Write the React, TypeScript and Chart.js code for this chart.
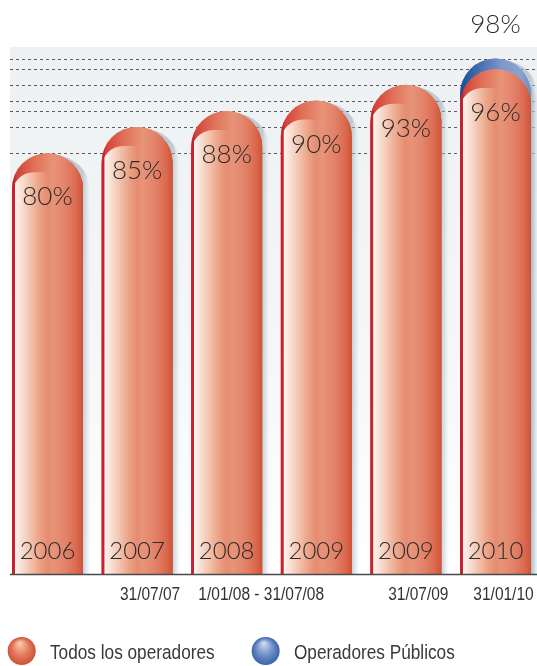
import React, { useEffect, useRef } from 'react';
import { Chart, registerables } from 'chart.js';

Chart.register(...registerables);

// ---- Data ----
const categories = ['2006', '2007', '2008', '2009', '2009', '2010'];
const dateLabels = ['', '31/07/07', '1/01/08 - 31/07/08', '', '31/07/09', '31/01/10'];
const todosValues: (number | null)[] = [80, 85, 88, 90, 93, 96];
const publicosValues: (number | null)[] = [null, null, null, null, null, 98];
const seriesNames = ['Todos los operadores', 'Operadores Públicos'];
const guideValues = [80, 85, 88, 90, 93, 96, 98];

// ---- Styles ----
const W = 537;
const H = 666;
const dateOffsets = [0, 13, 34.5, 0, 12.4, 8];
const numFont = "300 26px Lato, 'Open Sans', sans-serif";
const yearFont = "300 24px Lato, 'Open Sans', sans-serif";
const narrowFont = (px: number) => `${px}px 'Liberation Sans', Arial, sans-serif`;

function condensedText(ctx: CanvasRenderingContext2D, text: string, x: number, y: number, sx: number, align: 'left' | 'center') {
  ctx.save();
  ctx.translate(x, y);
  ctx.scale(sx, 1);
  ctx.textAlign = align;
  ctx.fillText(text, 0, 0);
  ctx.restore();
}

function pillPath(ctx: CanvasRenderingContext2D, x0: number, x1: number, top: number, base: number) {
  const r = (x1 - x0) / 2;
  ctx.beginPath();
  ctx.moveTo(x0, base);
  ctx.lineTo(x0, top + r);
  ctx.arc(x0 + r, top + r, r, Math.PI, 0);
  ctx.lineTo(x1, base);
  ctx.closePath();
}

function hGrad(ctx: CanvasRenderingContext2D, x0: number, x1: number, stops: [number, string][]) {
  const g = ctx.createLinearGradient(x0, 0, x1, 0);
  stops.forEach(([o, c]) => g.addColorStop(o, c));
  return g;
}

const redOuter: [number, string][] = [
  [0, '#c71d2c'], [0.035, '#cc2230'], [0.06, '#d4403a'], [0.3, '#df6f56'],
  [0.5, '#e5886d'], [0.58, '#e79479'], [0.75, '#e2836a'], [0.9, '#dc6b50'], [1, '#cf5338'],
];
const redInner: [number, string][] = [
  [0, '#c71d2c'], [0.035, '#cc2230'], [0.045, '#fdf4ef'], [0.18, '#f7d5c4'],
  [0.38, '#eca488'], [0.5, '#e68c71'], [0.58, '#e79479'], [0.75, '#e2836a'], [0.9, '#dc6b50'], [1, '#cf5338'],
];
const blueOuter: [number, string][] = [
  [0, '#174a8f'], [0.08, '#2259a2'], [0.35, '#5477b6'], [0.6, '#7f99c9'], [0.85, '#8aa2cf'], [1, '#6f8cc0'],
];

const decorPlugin = {
  id: 'decor',
  beforeDatasetsDraw(chart: any) {
    const { ctx } = chart;
    const y = chart.scales.y;
    const top = y.top - 1;
    const bottom = y.bottom;
    ctx.save();
    const bg = ctx.createLinearGradient(0, top, 0, bottom);
    bg.addColorStop(0, '#eef1f3');
    bg.addColorStop(0.55, '#f4f6f7');
    bg.addColorStop(1, '#ffffff');
    ctx.fillStyle = bg;
    ctx.fillRect(10, top, W - 10, bottom - top);
    ctx.strokeStyle = '#5a5a5a';
    ctx.lineWidth = 1;
    ctx.setLineDash([3, 3]);
    guideValues.forEach((v) => {
      const py = Math.round(y.getPixelForValue(v)) + 0.5;
      ctx.beginPath();
      ctx.moveTo(10, py);
      ctx.lineTo(W, py);
      ctx.stroke();
    });
    ctx.setLineDash([]);
    [1, 0].forEach((di) => {
      const meta = chart.getDatasetMeta(di);
      meta.data.forEach((el: any, i: number) => {
        const v = chart.data.datasets[di].data[i];
        if (v == null) return;
        const p = el.getProps(['x', 'y', 'base', 'width'], true);
        const x0 = p.x - p.width / 2;
        const x1 = p.x + p.width / 2;
        pillPath(ctx, x0 + 7, x1 + 7, p.y + 2, p.base);
        ctx.fillStyle = hGrad(ctx, x1, x1 + 8, [[0, 'rgba(150,170,185,0.55)'], [0.5, 'rgba(195,208,218,0.4)'], [1, 'rgba(230,236,240,0)']]);
        ctx.fill();
      });
    });
    ctx.restore();
  },
  afterDatasetsDraw(chart: any) {
    const { ctx } = chart;
    const yScale = chart.scales.y;
    ctx.save();
    [1, 0].forEach((di) => {
      const meta = chart.getDatasetMeta(di);
      meta.data.forEach((el: any, i: number) => {
        const v = chart.data.datasets[di].data[i];
        if (v == null) return;
        const p = el.getProps(['x', 'y', 'base', 'width'], true);
        const x0 = p.x - p.width / 2;
        const x1 = p.x + p.width / 2;
        const topY = p.y;
        const base = p.base;
        ctx.save();
        pillPath(ctx, x0, x1, topY, base);
        ctx.fillStyle = hGrad(ctx, x0, x1, di === 0 ? redOuter : blueOuter);
        ctx.fill();
        if (di === 0) {
          ctx.clip();
          const ti = topY + 19;
          const ri = 22;
          ctx.beginPath();
          ctx.moveTo(x0, base);
          ctx.lineTo(x0, ti + ri);
          ctx.arcTo(x0, ti, x0 + ri, ti, ri);
          ctx.lineTo(x1 + 2, ti);
          ctx.lineTo(x1 + 2, base);
          ctx.closePath();
          ctx.fillStyle = hGrad(ctx, x0, x1, redInner);
          ctx.fill();
        }
        ctx.restore();
      });
    });

    ctx.fillStyle = '#2b2b2b';
    ctx.textAlign = 'center';
    ctx.textBaseline = 'alphabetic';
    ctx.font = numFont;
    const m0 = chart.getDatasetMeta(0);
    m0.data.forEach((el: any, i: number) => {
      const v = chart.data.datasets[0].data[i];
      if (v == null) return;
      const p = el.getProps(['x', 'y'], true);
      ctx.fillText(`${v}%`, p.x, p.y + 52);
    });
    const m1 = chart.getDatasetMeta(1);
    m1.data.forEach((el: any, i: number) => {
      const v = chart.data.datasets[1].data[i];
      if (v == null) return;
      const p = el.getProps(['x', 'y'], true);
      ctx.fillText(`${v}%`, p.x, p.y - 25.5);
    });
    ctx.font = yearFont;
    const baseY = yScale.getPixelForValue(0);
    m0.data.forEach((el: any, i: number) => {
      const p = el.getProps(['x'], true);
      ctx.fillText(chart.data.labels[i], p.x, baseY - 15);
    });
    ctx.strokeStyle = '#4a4a4a';
    ctx.lineWidth = 1.5;
    ctx.beginPath();
    ctx.moveTo(10, baseY + 0.5);
    ctx.lineTo(W, baseY + 0.5);
    ctx.stroke();
    ctx.font = narrowFont(18);
    ctx.fillStyle = '#333333';
    const xs = chart.scales.x;
    dateLabels.forEach((t, i) => {
      if (!t) return;
      condensedText(ctx, t, xs.getPixelForValue(i) + dateOffsets[i], baseY + 26, 0.86, 'center');
    });
    ctx.restore();
  },
  afterDraw(chart: any) {
    const { ctx } = chart;
    ctx.save();
    const cy = 651;
    const r = 14;
    const palettes = [
      ['#f7c6ae', '#e47b5d', '#d0513a'],
      ['#c9d6ec', '#6e8fc9', '#3b63a8'],
    ];
    const sx = 0.84;
    let x = 7.7;
    ctx.font = narrowFont(20.5);
    ctx.textBaseline = 'alphabetic';
    chart.data.datasets.forEach((ds: any, i: number) => {
      const cx = x + r;
      const g = ctx.createRadialGradient(cx - 2, cy - 8, 1, cx, cy, r);
      g.addColorStop(0, palettes[i][0]);
      g.addColorStop(0.55, palettes[i][1]);
      g.addColorStop(1, palettes[i][2]);
      ctx.beginPath();
      ctx.arc(cx, cy, r, 0, Math.PI * 2);
      ctx.fillStyle = g;
      ctx.fill();
      const tx = x + 2 * r + 14.3;
      ctx.fillStyle = '#3a3a3a';
      condensedText(ctx, ds.label, tx, cy + 8, sx, 'left');
      x = tx + ctx.measureText(ds.label).width * sx + 37;
    });
    ctx.restore();
  },
};

export default function App() {
  const ref = useRef<HTMLCanvasElement | null>(null);
  useEffect(() => {
    if (!ref.current) return;
    const chart = new Chart(ref.current, {
      type: 'bar',
      data: {
        labels: categories,
        datasets: [
          {
            label: seriesNames[0],
            data: todosValues,
            backgroundColor: '#e2836a',
            borderRadius: { topLeft: 40, topRight: 40, bottomLeft: 0, bottomRight: 0 },
            borderSkipped: 'start',
            categoryPercentage: 1,
            barPercentage: 0.792,
            clip: false as any,
          },
          {
            label: seriesNames[1],
            data: publicosValues,
            backgroundColor: '#6f8fc6',
            borderRadius: { topLeft: 40, topRight: 40, bottomLeft: 0, bottomRight: 0 },
            borderSkipped: 'start',
            categoryPercentage: 1,
            barPercentage: 0.792,
            clip: false as any,
          },
        ],
      },
      options: {
        responsive: false,
        animation: false,
        layout: { padding: { left: 47.5, right: 41.5, top: 48, bottom: 92 } },
        plugins: { legend: { display: false }, tooltip: { enabled: false } },
        scales: {
          x: { display: false, stacked: true, offset: false },
          y: { display: false, min: 0, max: 100, stacked: false },
        },
      },
      plugins: [decorPlugin],
    });
    return () => chart.destroy();
  }, []);
  return (
    <div style={{ position: 'absolute', left: 0, top: 0, width: W, height: H, background: '#fff' }}>
      <canvas ref={ref} width={W} height={H} style={{ display: 'block' }} />
    </div>
  );
}
